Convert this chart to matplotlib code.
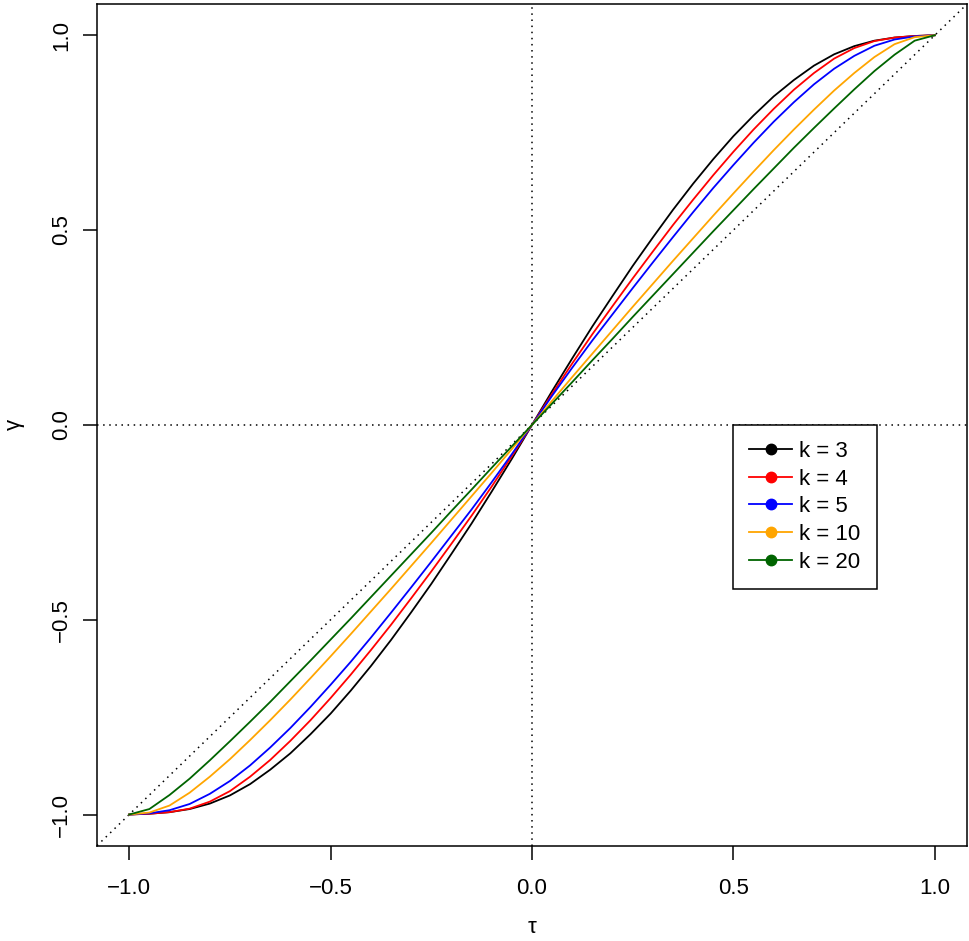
import matplotlib
matplotlib.use("Agg")
import matplotlib.pyplot as plt

plt.rcParams['font.family'] = ['Liberation Sans', 'DejaVu Sans']

# tau grid (step 0.05)
tau = [-1.00, -0.95, -0.90, -0.85, -0.80, -0.75, -0.70, -0.65, -0.60, -0.55,
       -0.50, -0.45, -0.40, -0.35, -0.30, -0.25, -0.20, -0.15, -0.10, -0.05,
       0.00, 0.05, 0.10, 0.15, 0.20, 0.25, 0.30, 0.35, 0.40, 0.45,
       0.50, 0.55, 0.60, 0.65, 0.70, 0.75, 0.80, 0.85, 0.90, 0.95, 1.00]

gamma_k3 = [-1.000, -0.998, -0.994, -0.986, -0.972, -0.951, -0.922, -0.885, -0.843, -0.794,
            -0.741, -0.682, -0.619, -0.552, -0.481, -0.408, -0.331, -0.253, -0.171, -0.087,
            0.000, 0.087, 0.171, 0.253, 0.331, 0.408, 0.481, 0.552, 0.619, 0.682,
            0.741, 0.794, 0.843, 0.885, 0.922, 0.951, 0.972, 0.986, 0.994, 0.998, 1.000]
gamma_k4 = [-1.000, -0.998, -0.994, -0.985, -0.967, -0.940, -0.903, -0.860, -0.811, -0.758,
            -0.701, -0.641, -0.578, -0.513, -0.445, -0.376, -0.305, -0.233, -0.158, -0.080,
            0.000, 0.080, 0.158, 0.233, 0.305, 0.376, 0.445, 0.513, 0.578, 0.641,
            0.701, 0.758, 0.811, 0.860, 0.903, 0.940, 0.967, 0.985, 0.994, 0.998, 1.000]
gamma_k5 = [-1.000, -0.997, -0.989, -0.973, -0.947, -0.914, -0.874, -0.828, -0.778, -0.724,
            -0.667, -0.608, -0.546, -0.482, -0.417, -0.351, -0.284, -0.217, -0.147, -0.075,
            0.000, 0.075, 0.147, 0.217, 0.284, 0.351, 0.417, 0.482, 0.546, 0.608,
            0.667, 0.724, 0.778, 0.828, 0.874, 0.914, 0.947, 0.973, 0.989, 0.997, 1.000]
gamma_k10 = [-1.000, -0.995, -0.977, -0.944, -0.903, -0.858, -0.809, -0.758, -0.705, -0.650,
             -0.594, -0.537, -0.479, -0.421, -0.362, -0.303, -0.243, -0.183, -0.123, -0.062,
             0.000, 0.062, 0.123, 0.183, 0.243, 0.303, 0.362, 0.421, 0.479, 0.537,
             0.594, 0.650, 0.705, 0.758, 0.809, 0.858, 0.903, 0.944, 0.977, 0.995, 1.000]
gamma_k20 = [-1.000, -0.986, -0.950, -0.908, -0.861, -0.812, -0.762, -0.711, -0.658, -0.605,
             -0.551, -0.497, -0.442, -0.387, -0.332, -0.277, -0.221, -0.166, -0.110, -0.055,
             0.000, 0.055, 0.110, 0.166, 0.221, 0.277, 0.332, 0.387, 0.442, 0.497,
             0.551, 0.605, 0.658, 0.711, 0.762, 0.812, 0.861, 0.908, 0.950, 0.986, 1.000]

series = [gamma_k3, gamma_k4, gamma_k5, gamma_k10, gamma_k20]
labels = ['k = 3', 'k = 4', 'k = 5', 'k = 10', 'k = 20']
colors = ['black', 'red', 'blue', 'orange', '#006400']

ticks = [-1.0, -0.5, 0.0, 0.5, 1.0]
tick_labels = ['\u22121.0', '\u22120.5', '0.0', '0.5', '1.0']

fig = plt.figure(figsize=(9.69, 9.41), dpi=100)
ax = fig.add_axes([0.1001, 0.1013, 0.8979, 0.8944])

# reference lines
ax.axhline(0, color='black', lw=1.1, ls=(0, (1, 3)))
ax.axvline(0, color='black', lw=1.1, ls=(0, (1, 3)))
ax.axline((0, 0), slope=1, color='black', lw=1.1, ls=(0, (1, 3)))

for g, lab, col in zip(series, labels, colors):
    ax.plot(tau, g, color=col, lw=1.3)

ax.set_xlim(-1.08, 1.08)
ax.set_ylim(-1.08, 1.08)
ax.set_xticks(ticks)
ax.set_xticklabels(tick_labels)
ax.set_yticks(ticks)
ax.set_yticklabels(tick_labels, rotation=90, va='center')
ax.tick_params(axis='both', direction='out', length=10, width=1.1, labelsize=16)
ax.tick_params(axis='x', pad=13)
ax.tick_params(axis='y', pad=8)
for s in ax.spines.values():
    s.set_linewidth(1.1)

ax.set_xlabel('\u03c4', fontsize=16)
ax.set_ylabel('\u03b3', fontsize=16)
ax.xaxis.set_label_coords(0.5, -0.0977)
ax.yaxis.set_label_coords(-0.0954, 0.5)
ax.xaxis.label.set_va('center')
ax.yaxis.label.set_va('center')

# legend with line + dot handles
handles = [plt.Line2D([], [], color=c, lw=1.3, marker='o', markersize=7.5) for c in colors]
leg = ax.legend(handles, labels, loc='upper left', bbox_to_anchor=(0.5, 0.0),
                bbox_transform=ax.transData, borderaxespad=0, fontsize=16,
                frameon=True, fancybox=False, edgecolor='black', framealpha=1,
                handlelength=1.9, labelspacing=0.3, borderpad=0.72, handletextpad=0.35)
leg.get_frame().set_linewidth(1.1)

fig.savefig('out.png', dpi=100)
